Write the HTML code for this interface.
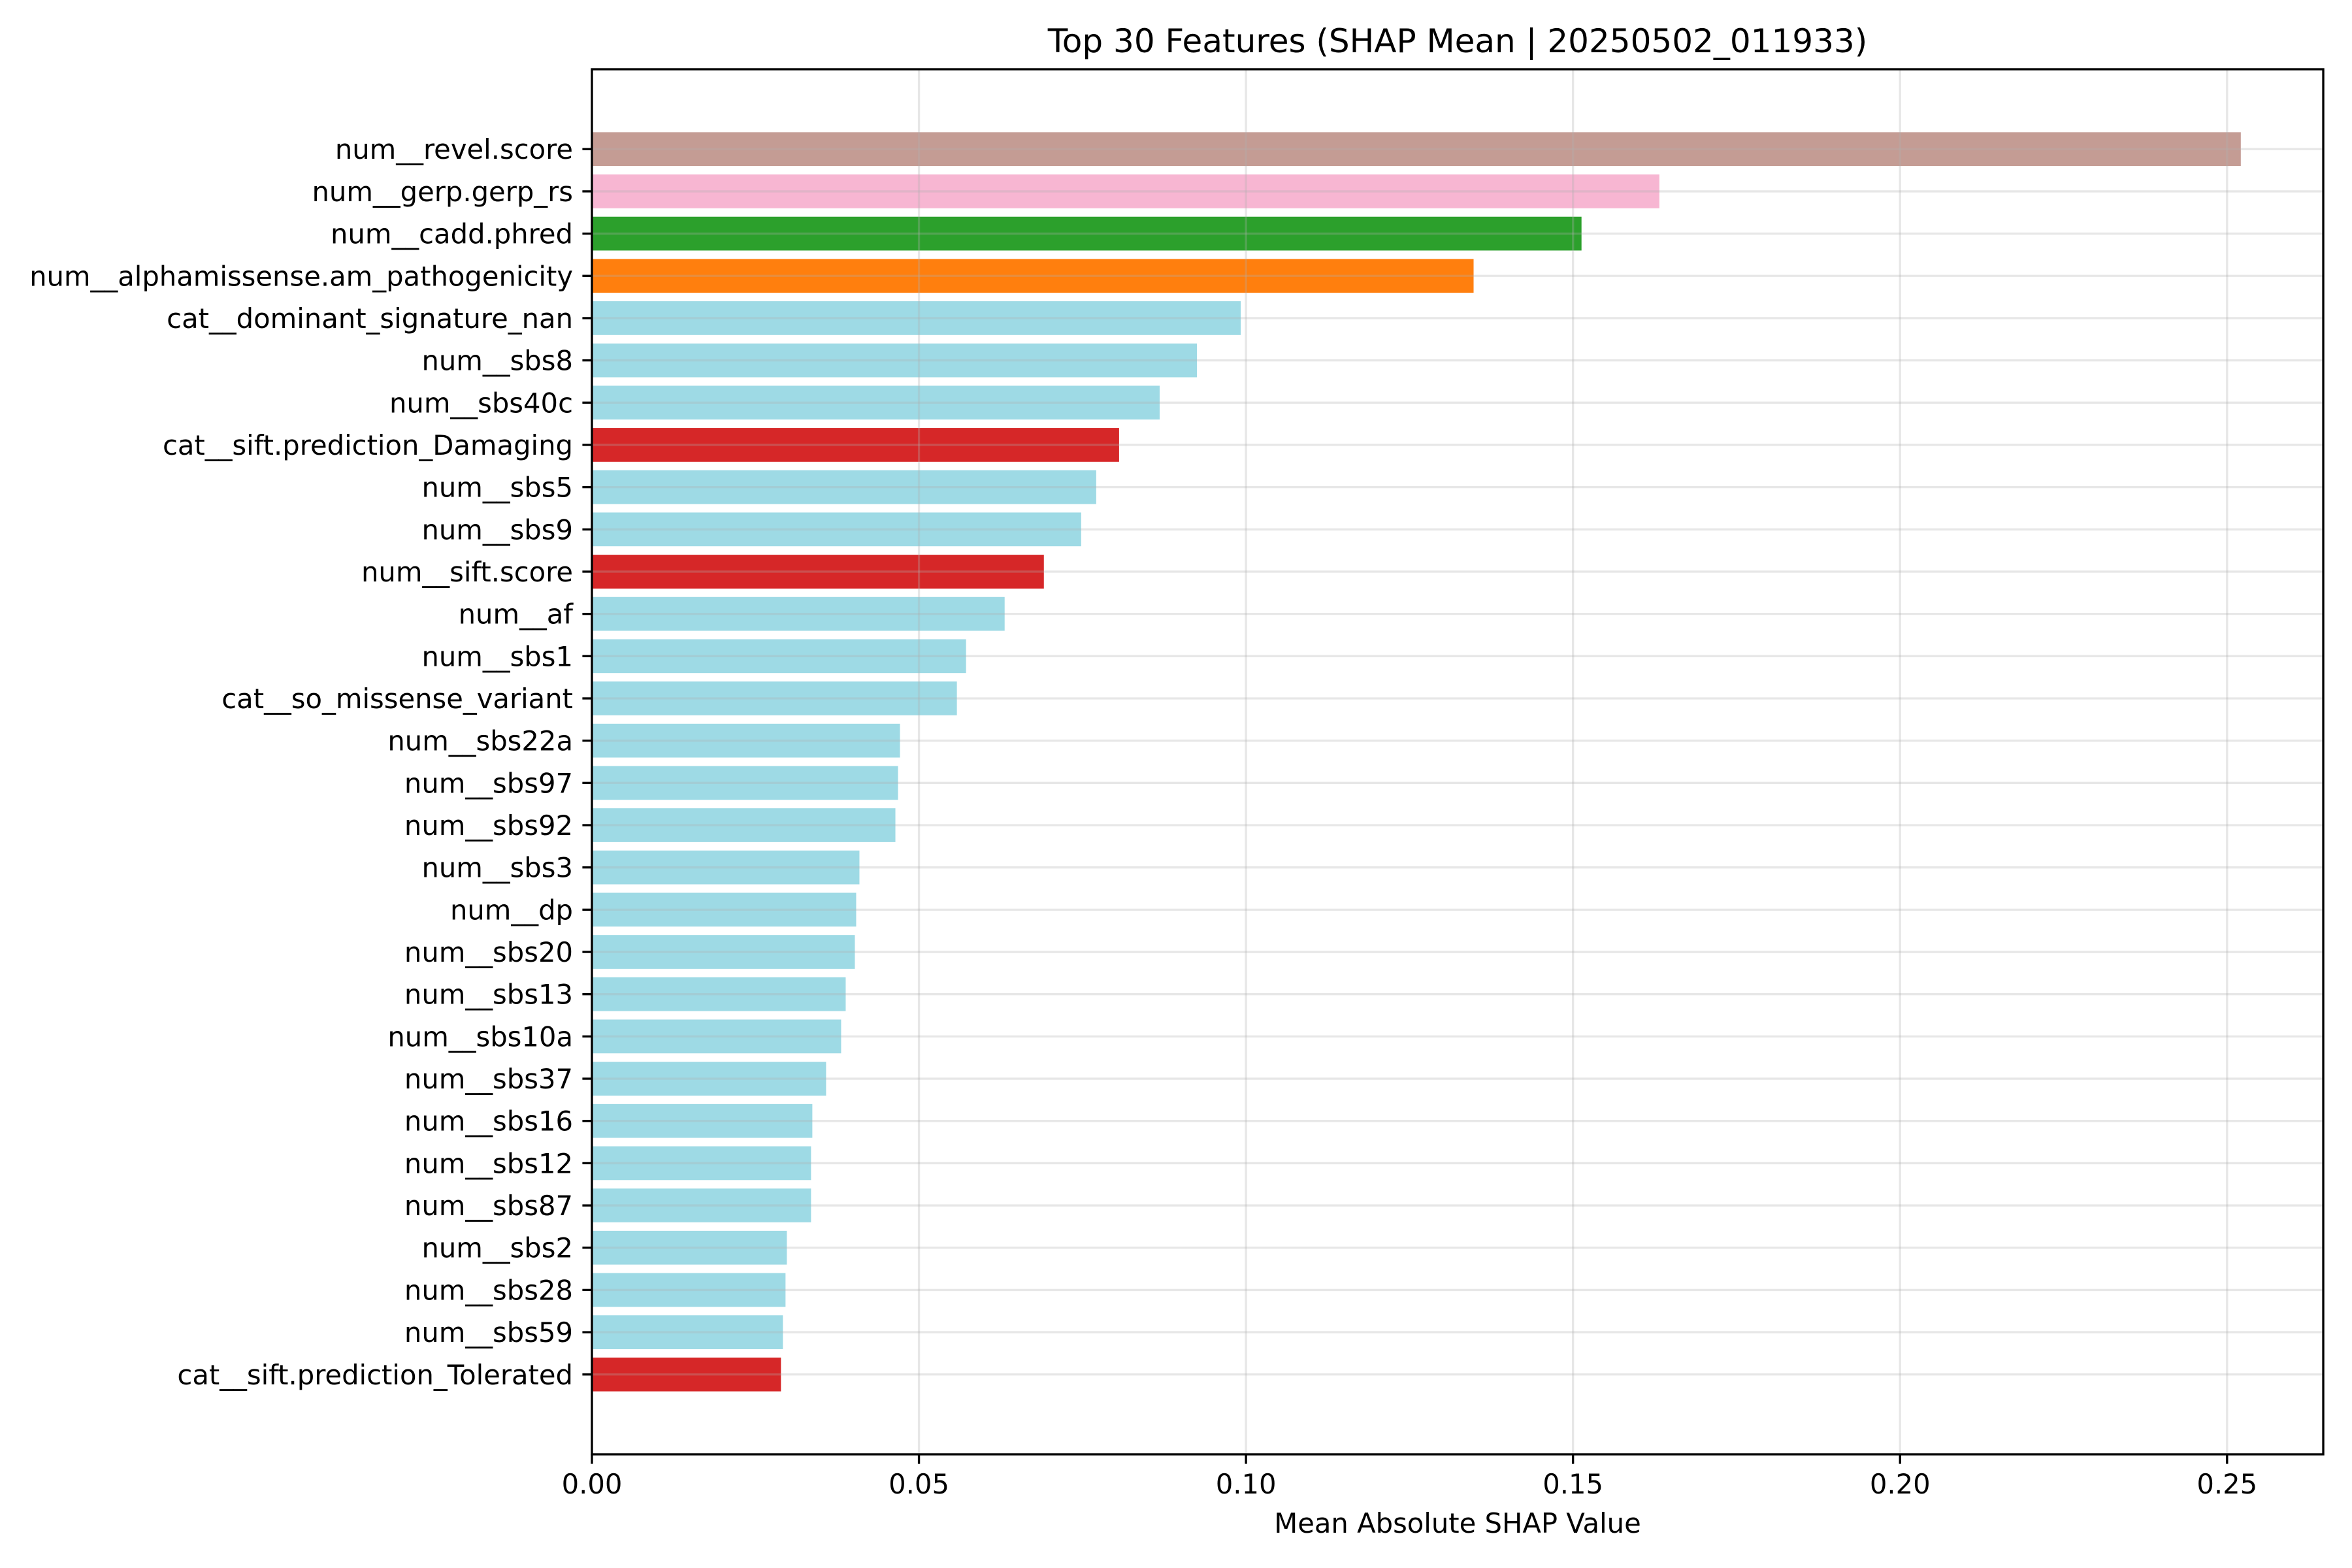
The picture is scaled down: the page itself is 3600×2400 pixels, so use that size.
<!DOCTYPE html>
<html><head><meta charset="utf-8"><style>
html,body{margin:0;padding:0;background:#fff;}
svg{display:block;font-family:"DejaVu Sans","Liberation Sans",sans-serif;}
</style></head><body>
<svg id="chart" width="3600" height="2400" viewBox="0 0 3600 2400" xmlns="http://www.w3.org/2000/svg">
<rect width="3600" height="2400" fill="#fff"/>
<text x="2231" y="80" font-size="50" text-anchor="middle">Top 30 Features (SHAP Mean | 20250502_011933)</text>
<g id="grid"></g><g id="bars"></g><g id="gridtop"></g><g id="axes"></g>
<text x="2231" y="2346" font-size="41.7" text-anchor="middle">Mean Absolute SHAP Value</text>
</svg>
<script>
const features = ["num__revel.score","num__gerp.gerp_rs","num__cadd.phred","num__alphamissense.am_pathogenicity","cat__dominant_signature_nan","num__sbs8","num__sbs40c","cat__sift.prediction_Damaging","num__sbs5","num__sbs9","num__sift.score","num__af","num__sbs1","cat__so_missense_variant","num__sbs22a","num__sbs97","num__sbs92","num__sbs3","num__dp","num__sbs20","num__sbs13","num__sbs10a","num__sbs37","num__sbs16","num__sbs12","num__sbs87","num__sbs2","num__sbs28","num__sbs59","cat__sift.prediction_Tolerated"];
const values = [0.2521,0.1632,0.1513,0.1348,0.0992,0.0925,0.0868,0.0806,0.0771,0.0748,0.0691,0.0631,0.0572,0.0558,0.0471,0.0468,0.0464,0.0409,0.0404,0.0402,0.0388,0.0381,0.0358,0.0337,0.0335,0.0335,0.0298,0.0296,0.0292,0.0289];
const colors = ["#c49c94","#f7b6d2","#2ca02c","#ff7f0e","#9edae5","#9edae5","#9edae5","#d62728","#9edae5","#9edae5","#d62728","#9edae5","#9edae5","#9edae5","#9edae5","#9edae5","#9edae5","#9edae5","#9edae5","#9edae5","#9edae5","#9edae5","#9edae5","#9edae5","#9edae5","#9edae5","#9edae5","#9edae5","#9edae5","#d62728"];
const xTicks = [0,0.05,0.10,0.15,0.20,0.25];
const xTickLabels = ["0.00","0.05","0.10","0.15","0.20","0.25"];

const L=906,R=3556,T=106,B=2226;
const n=features.length;
const xmax=Math.max(...values)*1.05;
const yMin=-0.4-0.05*(n-0.2), yMax=(n-1)+0.4+0.05*(n-0.2);
const x=v=>L+(v/xmax)*(R-L);
const y=i=>T+(i-yMin)/(yMax-yMin)*(B-T);
const bh=0.8*(B-T)/(yMax-yMin);
const NS="http://www.w3.org/2000/svg";
function mk(tag,attrs,parent){const e=document.createElementNS(NS,tag);for(const k in attrs)e.setAttribute(k,attrs[k]);parent.appendChild(e);return e;}
const gGrid=document.getElementById('gridtop'),gBars=document.getElementById('bars'),gAx=document.getElementById('axes');
features.forEach((f,i)=>{
  const r=mk('rect',{x:L,y:y(i)-bh/2,width:x(values[i])-L,height:bh,fill:colors[i]},gBars);
  
  
  const gl=mk('line',{x1:L,x2:R,y1:y(i),y2:y(i),stroke:'#b0b0b0','stroke-opacity':0.3,'stroke-width':3.33},gGrid);
  
  
  const tk=mk('line',{x1:L-14.6,x2:L,y1:y(i),y2:y(i),stroke:'#000','stroke-width':3.33},gAx);
  
  
  const t=mk('text',{x:L-29,y:y(i)+15,'font-size':41.7,'text-anchor':'end'},gAx);
  t.textContent=f;
  
  
});
xTicks.forEach((v,j)=>{
  const gl=mk('line',{x1:x(v),x2:x(v),y1:T,y2:B,stroke:'#b0b0b0','stroke-opacity':0.3,'stroke-width':3.33},gGrid);
  
  
  const tk=mk('line',{x1:x(v),x2:x(v),y1:B,y2:B+14.6,stroke:'#000','stroke-width':3.33},gAx);
  
  
  const t=mk('text',{x:x(v),y:B+60,'font-size':41.7,'text-anchor':'middle'},gAx);
  t.textContent=xTickLabels[j];
  
  
});
const frame=mk('rect',{x:L,y:T,width:R-L,height:B-T,fill:'none',stroke:'#000','stroke-width':3.33},gAx);


</script>
</body></html>
